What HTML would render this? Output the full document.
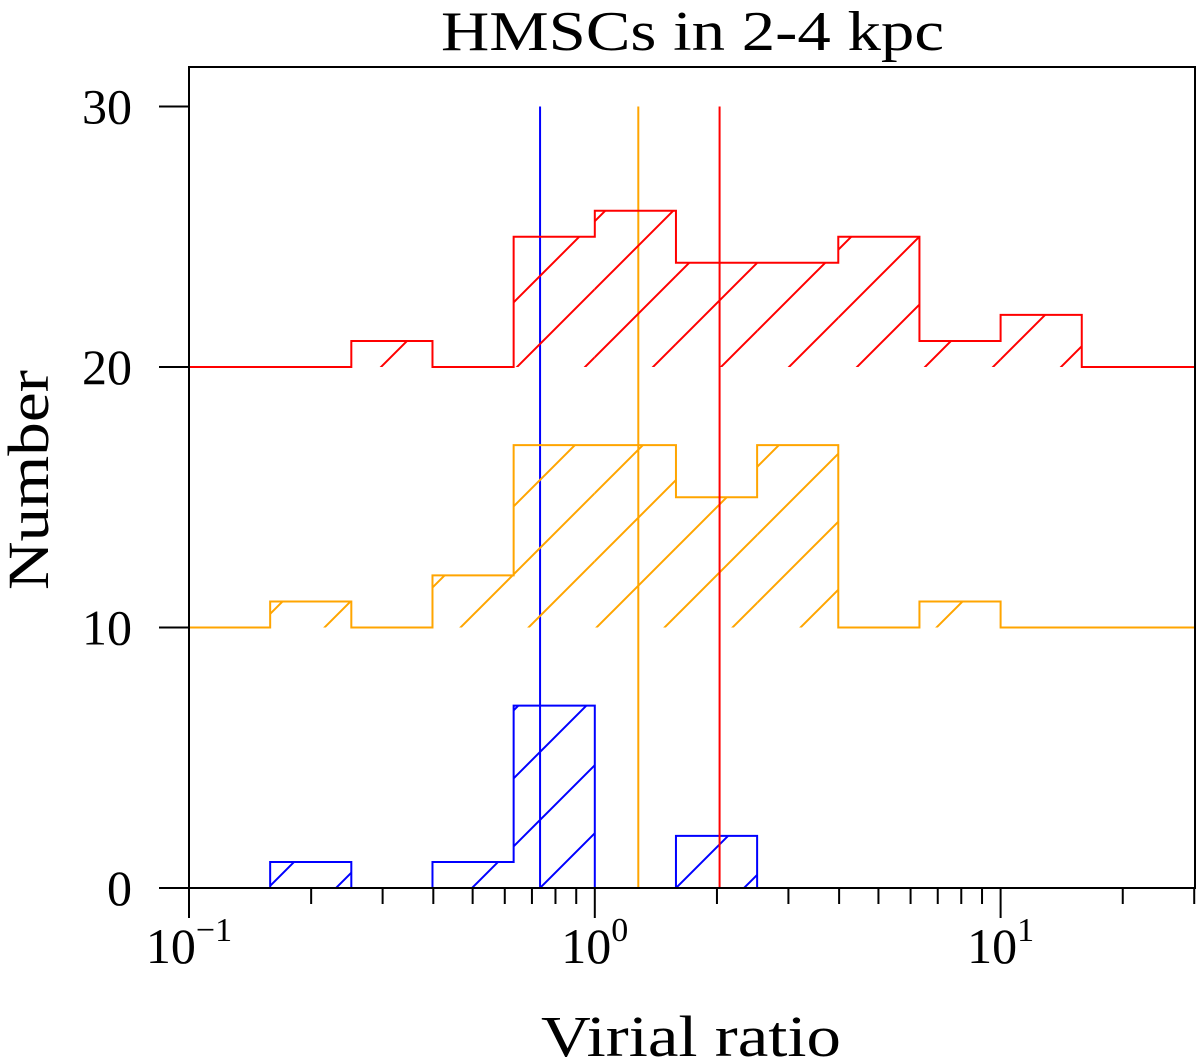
<!DOCTYPE html>
<html><head><meta charset="utf-8"><style>
body{margin:0;background:#fff}
svg{display:block;font-family:"Liberation Serif",serif}
</style></head><body>
<svg id="chart" width="1200" height="1064" viewBox="0 0 1200 1064">
<defs>
<pattern id="hb" patternUnits="userSpaceOnUse" width="68" height="68"><path d="M-17,17 L17,-17 M0,68 L68,0 M51,85 L85,51" stroke="blue" stroke-width="2"/></pattern>
<pattern id="ho" patternUnits="userSpaceOnUse" width="68" height="68"><path d="M-17,17 L17,-17 M0,68 L68,0 M51,85 L85,51" stroke="orange" stroke-width="2"/></pattern>
<pattern id="hr" patternUnits="userSpaceOnUse" width="68" height="68"><path d="M-17,17 L17,-17 M0,68 L68,0 M51,85 L85,51" stroke="red" stroke-width="2"/></pattern>
</defs>
<g id="marks"></g>
<rect x="189" y="67" width="1006" height="821" fill="none" stroke="#000" stroke-width="2"/>
<g id="axes"></g>
<text x="441" y="50" font-size="56" textLength="503" lengthAdjust="spacingAndGlyphs">HMSCs in 2-4 kpc</text>
<text x="541" y="1056" font-size="58" textLength="300" lengthAdjust="spacingAndGlyphs">Virial ratio</text>
<text transform="translate(48,590) rotate(-90)" font-size="58" textLength="220" lengthAdjust="spacingAndGlyphs">Number</text>
</svg>
<script>
const binEdgesLog = [-0.8,-0.6,-0.4,-0.2,0,0.2,0.4,0.6,0.8,1.0,1.2];
const blueCounts = [1,0,1,7,0,2,0,0,0,0];
const orangeCounts = [1,0,2,7,7,5,7,0,1,0];
const redCounts = [0,1,0,5,6,4,4,5,1,2];
const offsets = [0,10,20];
const medians = [0.733,1.28,2.03];
const yTicks = [0,10,20,30];
const colors = ['blue','orange','red'];
const pats = ['hb','ho','hr'];
const NS='http://www.w3.org/2000/svg';
const L=189,R=1195,T=67,B=888;
function xs(lg){return L+(lg+1)*405.8;}
function ys(v){return B-v*26.05;}
function mk(tag,attrs,parent){const e=document.createElementNS(NS,tag);for(const k in attrs)e.setAttribute(k,attrs[k]);parent.appendChild(e);return e;}
const marks=document.getElementById('marks');
const series=[blueCounts,orangeCounts,redCounts];
series.forEach((c,si)=>{
  const off=offsets[si];
  for(let i=0;i<c.length;i++){
    if(c[i]>0){
      const r=mk('rect',{x:xs(binEdgesLog[i]),y:ys(off+c[i]),width:xs(binEdgesLog[i+1])-xs(binEdgesLog[i]),height:ys(off)-ys(off+c[i]),fill:'url(#'+pats[si]+')'},marks);
      
      
    }
  }
  let d='M'+L+','+ys(off)+' L'+xs(binEdgesLog[0])+','+ys(off);
  for(let i=0;i<c.length;i++){d+=' L'+xs(binEdgesLog[i])+','+ys(off+c[i])+' L'+xs(binEdgesLog[i+1])+','+ys(off+c[i]);}
  d+=' L'+xs(binEdgesLog[c.length])+','+ys(off)+' L'+R+','+ys(off);
  const p=mk('path',{d:d,fill:'none',stroke:colors[si],'stroke-width':2},marks);
  
  
  const ml=mk('line',{x1:xs(Math.log10(medians[si])),x2:xs(Math.log10(medians[si])),y1:ys(0),y2:ys(30),stroke:colors[si],'stroke-width':2},marks);
  
  
});
const ax=document.getElementById('axes');
yTicks.forEach(v=>{
  mk('line',{x1:L-30,x2:L,y1:ys(v),y2:ys(v),stroke:'#000','stroke-width':2},ax);
  const t=mk('text',{x:132,y:ys(v)+17,'font-size':50,'text-anchor':'end'},ax);
  t.textContent=v;
  
  
});
for(let dec=-1;dec<=1;dec++){
  for(let m=1;m<=9;m++){
    const lg=dec+Math.log10(m);
    const x=xs(lg); if(x>R+1)break;
    mk('line',{x1:x,x2:x,y1:B,y2:B+(m===1?30:16),stroke:'#000','stroke-width':2},ax);
  }
}
[-1,0,1].forEach(p=>{
  const t=mk('text',{x:xs(p),y:963,'font-size':50,'text-anchor':'middle'},ax);
  t.innerHTML='10<tspan dy="-22" font-size="34">'+(p<0?'−1':p)+'</tspan>';
  
  
});
</script>
</body></html>
